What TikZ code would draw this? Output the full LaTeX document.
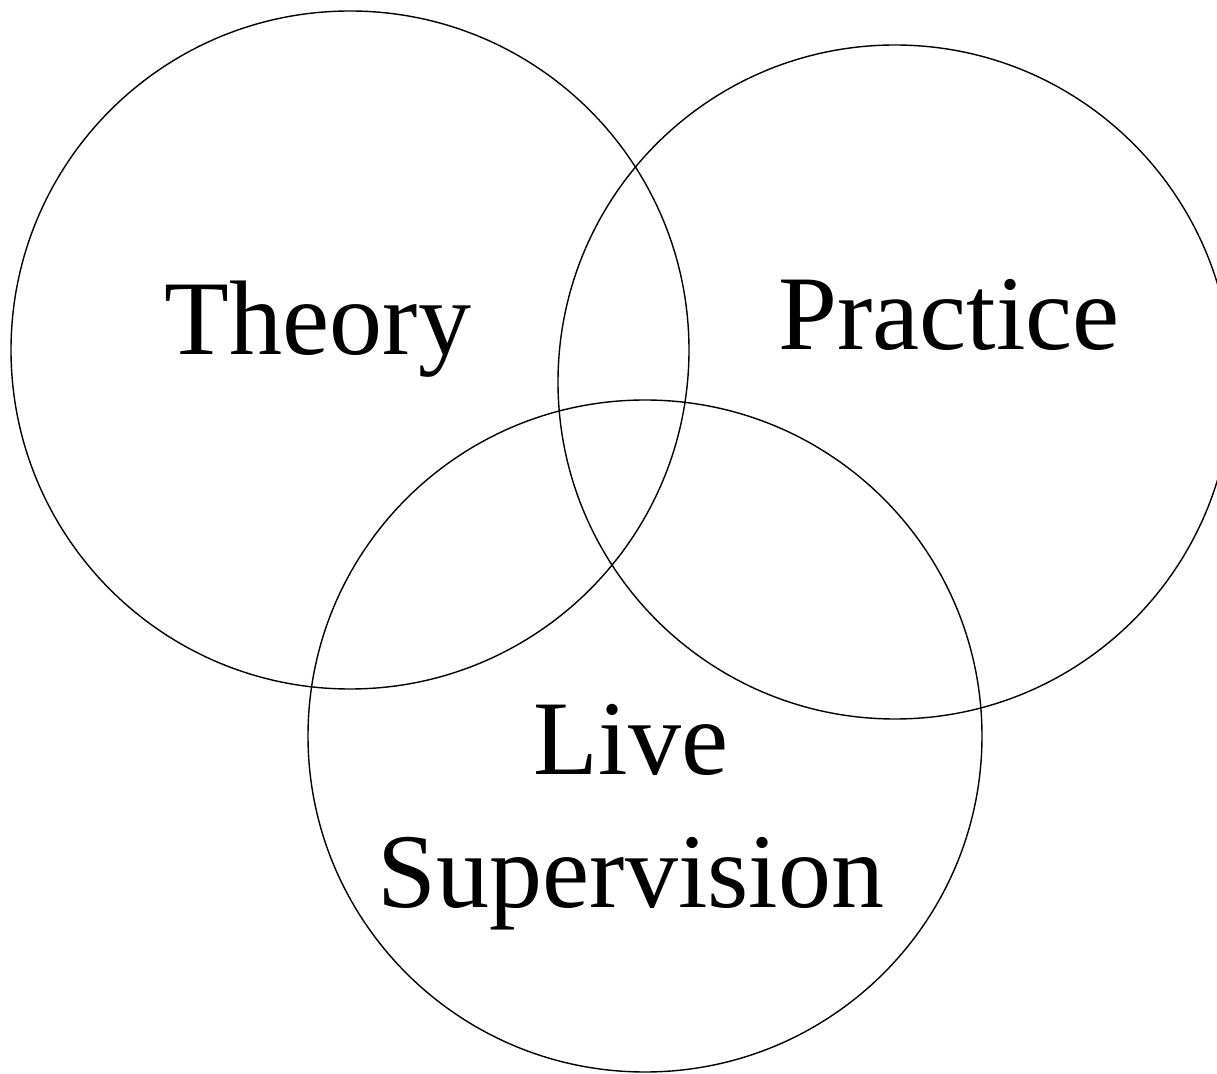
\documentclass[tikz,border=0pt]{standalone}
\usepackage{fontspec}
\setmainfont{Liberation Serif}
\begin{document}
\begin{tikzpicture}[x=0.5pt,y=-0.5pt,
  ring/.style={draw=black,line width=0.7pt},
  lbl/.style={inner sep=0pt,anchor=base,font=\fontsize{53}{66}\selectfont}]
\useasboundingbox (0,0) rectangle (1217,1074);
\clip (0,0) rectangle (1217,1074);
\fill[white] (0,0) rectangle (1217,1074);
\draw[ring] (350,350) ellipse (339 and 339);
\draw[ring] (895,382) ellipse (337 and 337);
\draw[ring] (645,736) ellipse (337 and 336);
\node[lbl] (theory) at (318,355) {Theory};
\node[lbl] (practice) at (949,350) {Practice};
\node[lbl] (live) at (631,775) {Live};
\node[lbl] (sup) at (631,908) {Supervision};
\end{tikzpicture}
\end{document}
